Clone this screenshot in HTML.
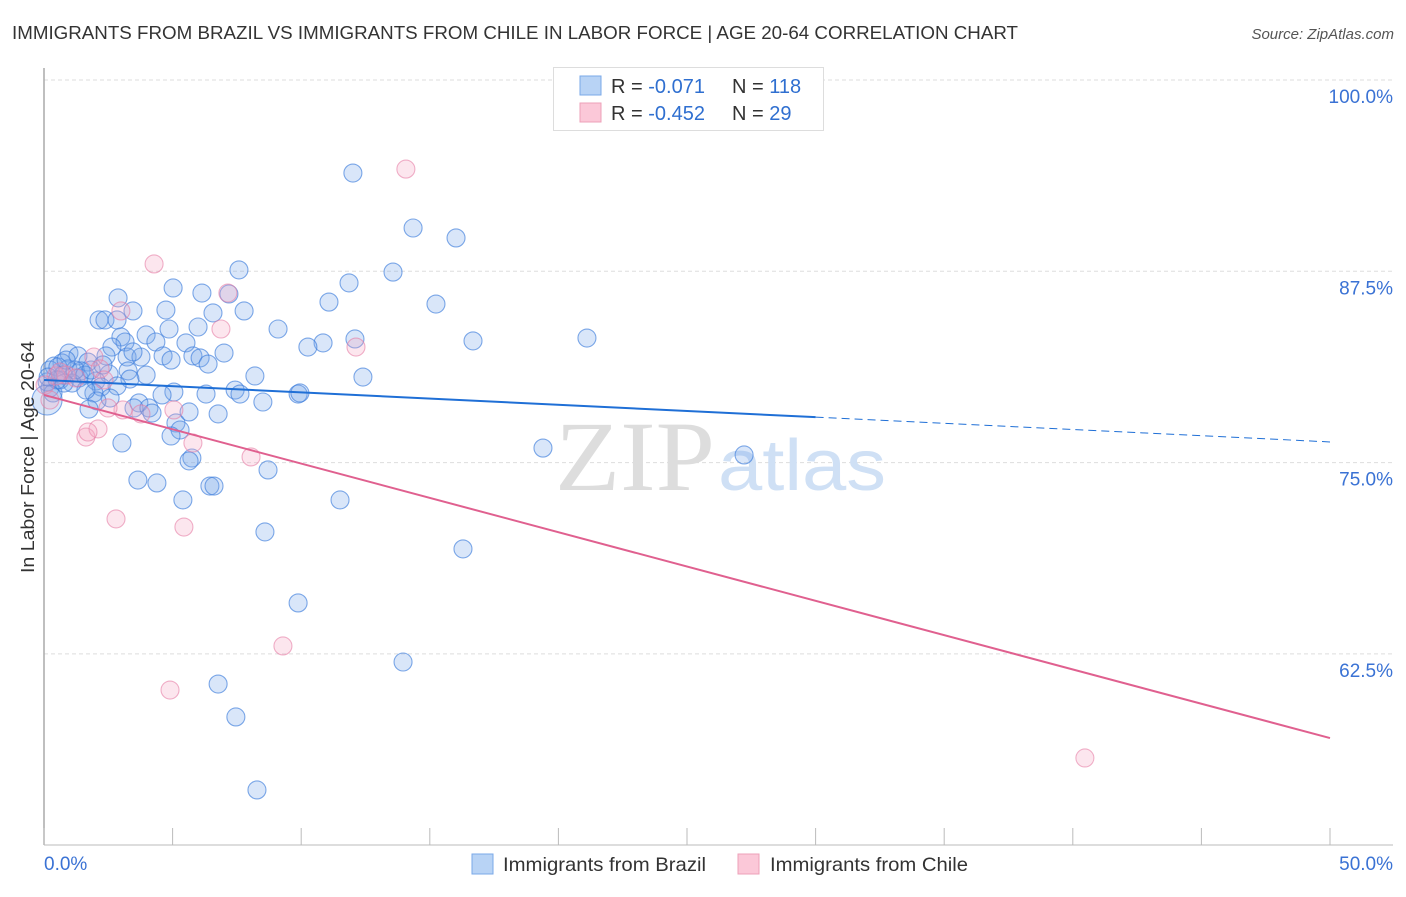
<!DOCTYPE html>
<html><head><meta charset="utf-8">
<style>
html,body{margin:0;padding:0;background:#fff;}
body{width:1406px;height:892px;overflow:hidden;font-family:"Liberation Sans",sans-serif;}
</style></head>
<body>
<svg id="chart" width="1406" height="892" viewBox="0 0 1406 892" xmlns="http://www.w3.org/2000/svg">
<text x="12" y="39" font-size="18" fill="#333" textLength="1006" lengthAdjust="spacingAndGlyphs">IMMIGRANTS FROM BRAZIL VS IMMIGRANTS FROM CHILE IN LABOR FORCE | AGE 20-64 CORRELATION CHART</text>
<text x="1394" y="39" font-size="15" fill="#555" font-style="italic" text-anchor="end">Source: ZipAtlas.com</text>
<g id="grid"></g>
<g>
<text x="555" y="490" font-size="100" fill="#ddd" font-family="Liberation Serif,serif" textLength="160" lengthAdjust="spacingAndGlyphs">ZIP</text>
<text x="718" y="490" font-size="72" fill="#cfe0f5" textLength="168" lengthAdjust="spacingAndGlyphs">atlas</text>
</g>
<g id="axes"></g>
<g id="pts"></g>
<g id="trends"></g>
<text transform="translate(34,457) rotate(-90)" font-size="18.5" fill="#333" text-anchor="middle" textLength="232" lengthAdjust="spacingAndGlyphs">In Labor Force | Age 20-64</text>
<g>
<rect x="553.5" y="67.5" width="270" height="63" fill="#fff" stroke="#ddd"/>
<rect x="580" y="76" width="21" height="19" fill="#b8d3f5" stroke="#7aa8e8"/>
<rect x="580" y="103" width="21" height="19" fill="#fbc8d8" stroke="#eea0b8"/>
<text x="611" y="93" font-size="20" fill="#333">R = <tspan fill="#2f6fd0"> -0.071</tspan><tspan x="732">N = </tspan><tspan fill="#2f6fd0">118</tspan></text>
<text x="611" y="120" font-size="20" fill="#333">R = <tspan fill="#2f6fd0">-0.452</tspan><tspan x="732">N = </tspan><tspan fill="#2f6fd0"> 29</tspan></text>
</g>
<g>
<rect x="472" y="854" width="21" height="20" fill="#b8d3f5" stroke="#7aa8e8"/>
<text x="503" y="871" font-size="19.5" fill="#333" textLength="203" lengthAdjust="spacingAndGlyphs">Immigrants from Brazil</text>
<rect x="738" y="854" width="21" height="20" fill="#fbc8d8" stroke="#eea0b8"/>
<text x="770" y="871" font-size="19.5" fill="#333" textLength="198" lengthAdjust="spacingAndGlyphs">Immigrants from Chile</text>
</g>
</svg>
<script>
const yTicks=[100,87.5,75,62.5];
const yTickLabels=["100.0%","87.5%","75.0%","62.5%"];
const xTickLabels=["0.0%","50.0%"];
const brazilX=[12.01,14.35,16.02,7.58,13.57,11.86,5.02,7.19,6.14,2.88,11.08,15.24,7.78,6.57,4.74,3.46,2.14,2.37,2.84,9.10,5.99,4.86,3.97,2.99,16.68,21.11,12.09,10.85,10.26,5.52,4.35,3.15,2.64,0.97,1.32,2.41,3.23,3.77,4.63,5.79,6.07,7.00,6.38,0.70,1.71,0.39,0.93,1.44,2.53,3.27,3.97,12.40,8.20,1.36,3.34,0.62,2.02,2.84,2.22,5.05,4.59,6.30,7.43,7.62,9.88,9.95,1.94,2.57,3.69,2.06,8.51,1.75,3.50,4.08,4.20,5.13,6.77,5.29,4.94,3.03,19.40,27.22,5.75,5.64,3.65,4.39,6.45,6.61,8.71,5.40,11.51,8.59,16.29,9.88,13.96,6.77,7.46,8.28,0.23,0.12,0.23,0.54,0.35,0.74,1.09,1.59,1.21,0.78,0.51,1.83,0.86,2.29,0.12,0.16,5.64,4.94,3.46,1.63];
const brazilY=[93.92,90.33,89.68,87.59,87.45,86.74,86.41,86.02,86.08,85.76,85.49,85.36,84.91,84.78,84.97,84.91,84.32,84.32,84.32,83.73,83.86,83.73,83.34,83.21,82.95,83.14,83.08,82.82,82.55,82.82,82.88,82.88,82.55,82.16,81.97,81.97,81.90,81.90,81.97,81.97,81.84,82.16,81.44,81.51,81.57,81.31,81.12,80.99,80.79,80.99,80.72,80.59,80.66,80.53,80.46,80.40,80.33,80.01,79.94,79.61,79.42,79.48,79.74,79.48,79.48,79.55,79.55,79.22,78.90,79.03,78.96,78.50,78.57,78.57,78.24,77.59,78.18,77.13,76.74,76.28,75.95,75.50,75.30,75.11,73.86,73.67,73.47,73.47,74.52,72.56,72.56,70.47,69.36,65.83,61.97,60.53,58.38,53.61,79.88,80.27,81.05,81.25,79.55,80.72,80.20,80.72,81.05,80.20,80.40,81.05,81.70,81.38,79.09,80.59,78.31,81.70,82.23,79.74];
const chileX=[14.07,4.28,7.15,2.99,6.88,12.13,1.94,2.18,0.86,1.24,0.47,0.04,2.33,3.07,2.49,3.77,5.05,1.63,2.10,1.71,5.79,8.05,2.80,5.44,9.29,4.90,40.47,0.23,0.62];
const chileY=[94.18,87.98,86.08,84.91,83.73,82.55,81.90,81.12,80.72,80.53,80.66,80.07,80.40,78.44,78.57,78.18,78.44,76.67,77.20,77.00,76.28,75.37,71.32,70.79,63.02,60.14,55.70,79.09,80.92];
const brazilTrend=[80.40,76.35];
const chileTrend=[79.42,57.0];
const NS="http://www.w3.org/2000/svg";
const X0=44,X1=1330,Y0=80,PXPER=191.3/12.5;
function sx(v){return X0+(v/50)*(X1-X0);}
function sy(v){return Y0+(100-v)*PXPER;}
function mk(tag,attrs,parent){const e=document.createElementNS(NS,tag);for(const k in attrs)e.setAttribute(k,attrs[k]);parent.appendChild(e);return e;}
const grid=document.getElementById('grid'),axes=document.getElementById('axes');
yTicks.forEach((t,i)=>{
 const l=mk('line',{x1:X0,x2:1393,y1:sy(t),y2:sy(t),stroke:'#ddd','stroke-dasharray':'4,3'},grid);
 
 
 const tx=mk('text',{x:1393,y:sy(t)+23,'font-size':19,fill:'#3a72d4','text-anchor':'end'},axes);
 tx.textContent=yTickLabels[i];
 
 
});
const ya=mk('line',{x1:X0,x2:X0,y1:68,y2:845,stroke:'#aaa','stroke-width':1.5},axes);


const xa=mk('line',{x1:X0,x2:1393,y1:845,y2:845,stroke:'#bbb'},axes);


for(let i=0;i<=10;i++){const t=mk('line',{x1:sx(i*5),x2:sx(i*5),y1:828,y2:845,stroke:'#bbb'},axes);
 
 }
const xl0=mk('text',{x:44,y:870,'font-size':19,fill:'#3a72d4'},axes);xl0.textContent=xTickLabels[0];


const xl1=mk('text',{x:1393,y:870,'font-size':19,fill:'#3a72d4','text-anchor':'end'},axes);xl1.textContent=xTickLabels[1];


const pts=document.getElementById('pts');
function drawPts(xs,ys,fill,stroke,name){xs.forEach((x,i)=>{
 const big=(x<0.2&&ys[i]<79.5);
 const c=mk('circle',{cx:sx(x),cy:sy(ys[i]),r:big?15:9,fill:fill,stroke:stroke,'stroke-width':1.1},pts);
 
 });}
drawPts(brazilX,brazilY,'rgba(120,165,235,0.28)','rgba(60,125,220,0.65)','brazil-point');
drawPts(chileX,chileY,'rgba(245,165,195,0.28)','rgba(230,125,165,0.6)','chile-point');
const tr=document.getElementById('trends');
const bxEnd=30,bMid=brazilTrend[0]+(brazilTrend[1]-brazilTrend[0])*bxEnd/50;
const b1=mk('line',{x1:sx(0),y1:sy(brazilTrend[0]),x2:sx(bxEnd),y2:sy(bMid),stroke:'#1f6fd6','stroke-width':2},tr);


const b2=mk('line',{x1:sx(bxEnd),y1:sy(bMid),x2:sx(50),y2:sy(brazilTrend[1]),stroke:'#1f6fd6','stroke-width':1,'stroke-dasharray':'8,5'},tr);


const c1=mk('line',{x1:sx(0),y1:sy(chileTrend[0]),x2:sx(50),y2:sy(chileTrend[1]),stroke:'#e0608f','stroke-width':2},tr);


</script>
</body></html>
